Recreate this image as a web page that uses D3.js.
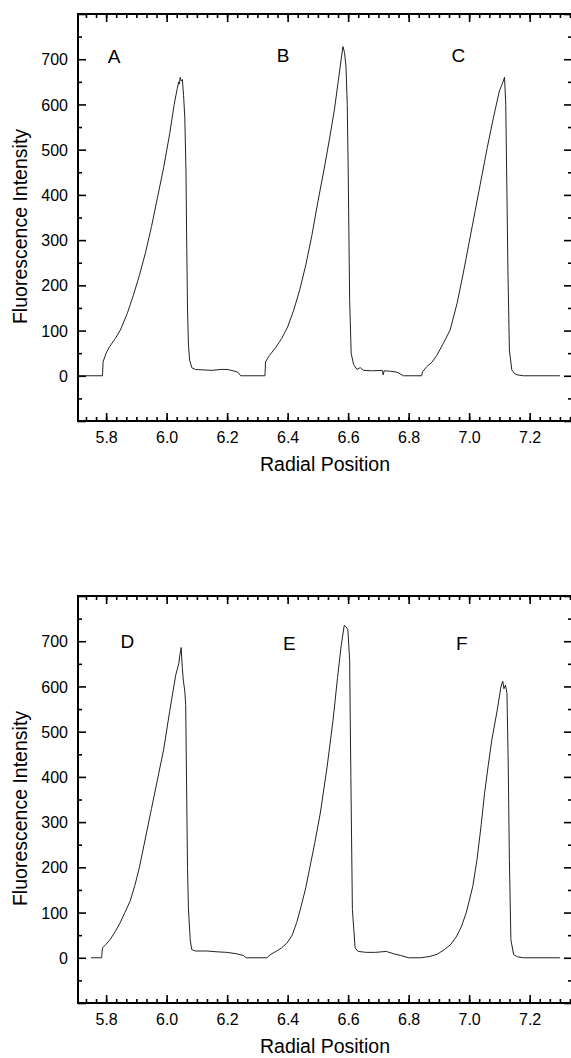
<!DOCTYPE html>
<html>
<head>
<meta charset="utf-8">
<script src="https://d3js.org/d3.v7.min.js"></script>
<style>
  body { margin: 0; background: #fff; }
  svg { display: block; }
  text { font-family: "Liberation Sans", Arial, sans-serif; fill: #000; }
</style>
</head>
<body>
<svg id="drawing_region"></svg>
<script>
// tick values
const xMajorTicks = [5.8, 6.0, 6.2, 6.4, 6.6, 6.8, 7.0, 7.2];
const yMajorTicks = [-100, 0, 100, 200, 300, 400, 500, 600, 700, 800];
const yLabelTicks = [0, 100, 200, 300, 400, 500, 600, 700];

// peak labels (position in data units)
const topLetters = ["A", "B", "C"];
const topLetterX = [5.826, 6.385, 6.964];
const topLetterY = [691, 693, 693];
const bottomLetters = ["D", "E", "F"];
const bottomLetterX = [5.870, 6.406, 6.976];
const bottomLetterY = [684, 680, 680];

// upper scan (A, B, C)
const topRadius = [
  5.707, 5.788, 5.790, 5.800, 5.811, 5.830, 5.847, 5.870, 5.890, 5.910, 5.930, 5.950, 5.970, 5.990,
  6.010, 6.025, 6.035, 6.040, 6.042, 6.045, 6.048, 6.052, 6.056, 6.060, 6.064, 6.066, 6.069, 6.072,
  6.076, 6.083, 6.095, 6.120, 6.150, 6.180, 6.200, 6.220, 6.235, 6.245, 6.325, 6.327, 6.340, 6.360,
  6.380, 6.400, 6.420, 6.440, 6.460, 6.480, 6.500, 6.520, 6.540, 6.555, 6.567, 6.577, 6.583, 6.588,
  6.593, 6.597, 6.600, 6.605, 6.610, 6.618, 6.629, 6.640, 6.650, 6.680, 6.713, 6.716, 6.719, 6.740,
  6.761, 6.775, 6.783, 6.843, 6.846, 6.860, 6.877, 6.893, 6.915, 6.937, 6.960, 6.980, 7.000, 7.020,
  7.040, 7.060, 7.080, 7.100, 7.112, 7.117, 7.121, 7.125, 7.128, 7.133, 7.141, 7.150, 7.159, 7.180,
  7.300
];
const topIntensity = [
  0, 0, 31, 50, 64, 82, 101, 138, 178, 222, 272, 330, 395, 460,
  535, 600, 635, 650, 645, 660, 652, 655, 620, 572, 450, 315, 150, 70,
  35, 18, 14, 13, 12, 14, 14, 11, 8, 0, 0, 31, 45, 62,
  82, 108, 145, 190, 245, 310, 385, 455, 530, 590, 650, 700, 728, 715,
  683, 600, 462, 167, 50, 25, 14, 18, 12, 11, 12, 2, 11, 10,
  8, 3, 0, 0, 9, 20, 30, 45, 72, 101, 160, 225, 295, 365,
  435, 505, 570, 630, 650, 660, 600, 400, 241, 57, 13, 5, 2, 0,
  0
];

// lower scan (D, E, F)
const bottomRadius = [
  5.750, 5.785, 5.788, 5.800, 5.813, 5.830, 5.846, 5.862, 5.879, 5.895, 5.910, 5.930, 5.950, 5.970,
  5.990, 6.010, 6.030, 6.040, 6.044, 6.048, 6.052, 6.055, 6.060, 6.063, 6.066, 6.069, 6.072, 6.078,
  6.083, 6.095, 6.133, 6.170, 6.199, 6.230, 6.254, 6.263, 6.331, 6.345, 6.364, 6.380, 6.397, 6.415,
  6.430, 6.445, 6.460, 6.475, 6.490, 6.508, 6.530, 6.550, 6.565, 6.577, 6.587, 6.593, 6.599, 6.605,
  6.609, 6.614, 6.623, 6.633, 6.660, 6.690, 6.726, 6.750, 6.774, 6.800, 6.840, 6.870, 6.895, 6.918,
  6.940, 6.959, 6.975, 6.990, 7.000, 7.012, 7.026, 7.040, 7.051, 7.063, 7.075, 7.093, 7.105, 7.111,
  7.115, 7.120, 7.125, 7.129, 7.133, 7.138, 7.147, 7.160, 7.180, 7.300
];
const bottomIntensity = [
  0, 0, 22, 30, 40, 58, 77, 100, 125, 160, 200, 265, 330, 395,
  460, 545, 625, 650, 670, 686, 640, 614, 590, 560, 380, 200, 110, 40,
  18, 15, 15, 13, 12, 9, 5, 0, 0, 8, 15, 22, 32, 50,
  78, 115, 155, 205, 255, 320, 420, 525, 620, 690, 735, 732, 726, 658,
  401, 107, 22, 14, 12, 12, 14, 9, 5, 0, 0, 3, 8, 18,
  30, 48, 70, 99, 125, 158, 217, 295, 364, 425, 482, 548, 599, 612,
  595, 603, 585, 437, 217, 40, 7, 2, 0, 0
];

const svgWidth = 571, svgHeight = 1058;

class ScanPanel {
  constructor( config, radius, intensity, letters, letterX, letterY ) {
    this.config = config;
    this.data = radius.map( (r, i) => ({ x: r, y: intensity[i] }) );
    this.labels = letters.map( (t, i) => ({ text: t, x: letterX[i], y: letterY[i] }) );
    this.init();
  }

  init() {
    let self = this;
    const c = self.config;

    self.chart = d3.select( c.parent ).append('g')
      .attr('transform', `translate(0, ${c.offsetY})`);

    self.xscale = d3.scaleLinear().domain( [5.707, 7.34] ).range( [c.left, c.right] );
    self.yscale = d3.scaleLinear().domain( [-100, 800] ).range( [c.bottom, c.top] );

    const xMinor = d3.range(0, 50).map( i => 5.7 + i * 0.2 / 6 )
      .filter( v => v > 5.71 && v < 7.339 );
    const yMinor = d3.range(-50, 800, 100);

    // bottom axis (labelled), ticks point inward
    self.chart.append('g')
      .attr('transform', `translate(0, ${c.bottom})`)
      .call( d3.axisBottom( self.xscale ).tickValues( xMajorTicks ).tickSizeInner(-8).tickSizeOuter(0)
        .tickPadding(11).tickFormat( d3.format('.1f') ) )
      .call( g => g.select('.domain').remove() )
      .call( g => g.selectAll('text').attr('font-size', '16px') );
    self.chart.append('g')
      .attr('transform', `translate(0, ${c.bottom})`)
      .call( d3.axisBottom( self.xscale ).tickValues( xMinor ).tickSizeInner(-4).tickSizeOuter(0).tickFormat('') )
      .call( g => g.select('.domain').remove() );

    // top axis, ticks only
    self.chart.append('g')
      .attr('transform', `translate(0, ${c.top})`)
      .call( d3.axisTop( self.xscale ).tickValues( xMajorTicks ).tickSizeInner(-8).tickSizeOuter(0).tickFormat('') )
      .call( g => g.select('.domain').remove() );
    self.chart.append('g')
      .attr('transform', `translate(0, ${c.top})`)
      .call( d3.axisTop( self.xscale ).tickValues( xMinor ).tickSizeInner(-4).tickSizeOuter(0).tickFormat('') )
      .call( g => g.select('.domain').remove() );

    // left axis (labelled)
    self.chart.append('g')
      .attr('transform', `translate(${c.left}, 0)`)
      .call( d3.axisLeft( self.yscale ).tickValues( yMajorTicks ).tickSizeInner(-8).tickSizeOuter(0)
        .tickPadding(10).tickFormat( d => yLabelTicks.includes(d) ? d : '' ) )
      .call( g => g.select('.domain').remove() )
      .call( g => g.selectAll('text').attr('font-size', '16px').attr('dy', '0.35em') );
    self.chart.append('g')
      .attr('transform', `translate(${c.left}, 0)`)
      .call( d3.axisLeft( self.yscale ).tickValues( yMinor ).tickSizeInner(-4).tickSizeOuter(0).tickFormat('') )
      .call( g => g.select('.domain').remove() );

    // right axis, ticks only
    self.chart.append('g')
      .attr('transform', `translate(${c.right}, 0)`)
      .call( d3.axisRight( self.yscale ).tickValues( yMajorTicks ).tickSizeInner(-8).tickSizeOuter(0).tickFormat('') )
      .call( g => g.select('.domain').remove() );
    self.chart.append('g')
      .attr('transform', `translate(${c.right}, 0)`)
      .call( d3.axisRight( self.yscale ).tickValues( yMinor ).tickSizeInner(-4).tickSizeOuter(0).tickFormat('') )
      .call( g => g.select('.domain').remove() );

    self.chart.selectAll('.tick line')
      .attr('stroke', '#000')
      .attr('stroke-width', 1.6);

    // frame
    self.chart.append('rect')
      .attr('x', c.left)
      .attr('y', c.top)
      .attr('width', c.right - c.left)
      .attr('height', c.bottom - c.top)
      .attr('fill', 'none')
      .attr('stroke', '#000')
      .attr('stroke-width', 2);

    // axis titles
    self.chart.append('text')
      .attr('x', (c.left + c.right) / 2)
      .attr('y', c.bottom + 50)
      .attr('text-anchor', 'middle')
      .attr('font-size', '19.5px')
      .text('Radial Position');

    self.chart.append('text')
      .attr('transform', `translate(27, ${(c.top + c.bottom) / 2 + 9}) rotate(-90)`)
      .attr('text-anchor', 'middle')
      .attr('font-size', '19.5px')
      .text('Fluorescence Intensity');
  }

  render() {
    let self = this;

    const line = d3.line()
      .x( d => self.xscale( d.x ) )
      .y( d => self.yscale( d.y ) );

    self.chart.append('path')
      .datum( self.data )
      .attr('d', line)
      .attr('fill', 'none')
      .attr('stroke', '#222')
      .attr('stroke-width', 1)
      .attr('stroke-linejoin', 'round');

    self.chart.selectAll('.peak-label')
      .data( self.labels )
      .enter()
      .append('text')
      .attr('class', 'peak-label')
      .attr('x', d => self.xscale( d.x ) )
      .attr('y', d => self.yscale( d.y ) )
      .attr('text-anchor', 'middle')
      .attr('font-size', '19px')
      .text( d => d.text );
  }
}

d3.select('#drawing_region')
  .attr('width', svgWidth)
  .attr('height', svgHeight);

const frame = { parent: '#drawing_region', left: 78, right: 572, top: 14, bottom: 421 };

const upper = new ScanPanel( Object.assign({ offsetY: 0 }, frame ),
  topRadius, topIntensity, topLetters, topLetterX, topLetterY );
upper.render();

const lower = new ScanPanel( Object.assign({ offsetY: 582 }, frame ),
  bottomRadius, bottomIntensity, bottomLetters, bottomLetterX, bottomLetterY );
lower.render();
</script>
</body>
</html>
